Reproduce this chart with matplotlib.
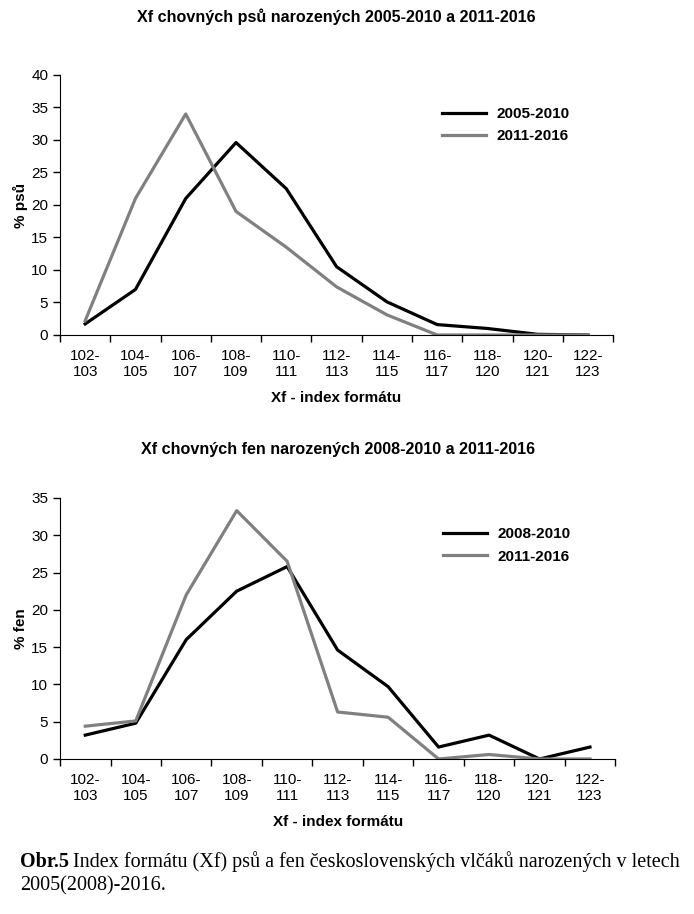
import numpy as np
import matplotlib.pyplot as plt

plt.rcParams['font.family'] = ['Liberation Sans', 'DejaVu Sans']

categories = ['102-\n103', '104-\n105', '106-\n107', '108-\n109', '110-\n111', '112-\n113',
              '114-\n115', '116-\n117', '118-\n120', '120-\n121', '122-\n123']

# psi (dogs)
psi_2005_2010 = [1.7, 7.0, 21.0, 29.6, 22.5, 10.5, 5.1, 1.6, 1.0, 0.1, 0.0]
psi_2011_2016 = [2.2, 21.0, 34.0, 19.0, 13.5, 7.4, 3.1, 0.0, 0.0, 0.0, 0.0]

# feny (bitches)
fen_2008_2010 = [3.2, 4.8, 16.0, 22.5, 25.8, 14.6, 9.7, 1.6, 3.2, 0.0, 1.6]
fen_2011_2016 = [4.4, 5.1, 22.0, 33.3, 26.5, 6.3, 5.6, 0.0, 0.6, 0.0, 0.0]

x = np.arange(len(categories))

fig = plt.figure(figsize=(6.94, 9.14), dpi=100)


def draw(ax, a, b, la, lb, title, ylabel, ymax, title_pad, leg_y):
    ax.plot(x, a, color='black', lw=2.3, label=la)
    ax.plot(x, b, color='#808080', lw=2.3, label=lb)
    ax.set_xlim(-0.5, len(categories) - 0.5)
    ax.set_ylim(0, ymax)
    ax.set_yticks(np.arange(0, ymax + 1, 5))
    ax.set_xticks(np.arange(-0.5, len(categories)), labels=[])
    ax.set_xticks(x, labels=categories, minor=True)
    ax.tick_params(axis='x', which='major', direction='out', length=5, width=1)
    ax.tick_params(axis='x', which='minor', length=0, labelsize=11, pad=10)
    ax.tick_params(axis='y', direction='out', length=5, width=1, labelsize=11)
    for s in ['top', 'right']:
        ax.spines[s].set_visible(False)
    ax.set_title(title, fontsize=11.6, fontweight='bold', pad=title_pad)
    ax.set_xlabel('Xf - index formátu', fontsize=11, fontweight='bold', labelpad=8.5)
    ax.set_ylabel(ylabel, fontsize=11, fontweight='bold', labelpad=2)
    ax.legend(loc='upper left', bbox_to_anchor=(0.665, leg_y), frameon=False,
              handlelength=2.9, handletextpad=0.7, labelspacing=0.55,
              prop={'weight': 'bold', 'size': 11})


ax1 = fig.add_axes([0.0865, 0.6335, 0.797, 0.2845])
draw(ax1, psi_2005_2010, psi_2011_2016, '2005-2010', '2011-2016',
     'Xf chovných psů narozených 2005-2010 a 2011-2016', '% psů', 40, 38, 0.93)

ax2 = fig.add_axes([0.0865, 0.1696, 0.8, 0.2856])
draw(ax2, fen_2008_2010, fen_2011_2016, '2008-2010', '2011-2016',
     'Xf chovných fen narozených 2008-2010 a 2011-2016', '% fen', 35, 32, 0.94)

# caption
cap_size = 14.5
y1 = 1 - 862 / 914
t0 = fig.text(0.029, y1, 'Obr.5', fontsize=cap_size, fontweight='bold',
              family='Liberation Serif', va='center')
fig.canvas.draw()
bb = t0.get_window_extent()
fig.text((bb.x1 + 4) / fig.bbox.width, y1,
         'Index formátu (Xf) psů a fen československých vlčáků narozených v letech',
         fontsize=cap_size, family='Liberation Serif', va='center')
fig.text(0.029, 1 - 886 / 914, '2005(2008)-2016.', fontsize=cap_size,
         family='Liberation Serif', va='center')

fig.savefig('out.png', dpi=100)
